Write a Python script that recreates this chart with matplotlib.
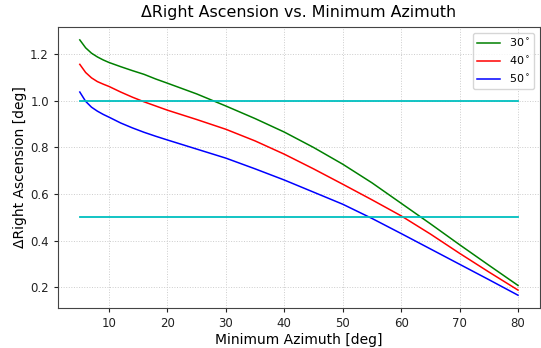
import matplotlib
matplotlib.use("Agg")
import matplotlib.pyplot as plt

# Minimum azimuth [deg]
azimuth = [5, 6, 7, 8, 9, 10, 12, 14, 16, 18, 20, 25, 30, 35, 40, 45, 50, 55, 60, 65, 70, 75, 80]

# Delta right ascension [deg] for each elevation
dra_30 = [1.262, 1.228, 1.205, 1.189, 1.176, 1.165, 1.147, 1.130, 1.114, 1.094, 1.076, 1.030,
          0.978, 0.924, 0.866, 0.800, 0.728, 0.648, 0.560, 0.472, 0.382, 0.294, 0.207]
dra_40 = [1.157, 1.122, 1.099, 1.083, 1.072, 1.062, 1.038, 1.016, 0.996, 0.978, 0.960, 0.920,
          0.878, 0.828, 0.771, 0.708, 0.642, 0.575, 0.506, 0.428, 0.345, 0.265, 0.187]
dra_50 = [1.038, 0.998, 0.973, 0.956, 0.942, 0.930, 0.905, 0.884, 0.865, 0.848, 0.832, 0.793,
          0.754, 0.708, 0.660, 0.608, 0.556, 0.495, 0.430, 0.364, 0.298, 0.232, 0.165]

series_labels = [r"30$^\circ$", r"40$^\circ$", r"50$^\circ$"]
threshold_levels = [1.0, 0.5]

fig = plt.figure(figsize=(5.41, 3.48), dpi=100)
ax = fig.add_axes([0.107, 0.115, 0.891, 0.807])

ax.plot(azimuth, dra_30, color="g", lw=1.1, label=series_labels[0])
ax.plot(azimuth, dra_40, color="r", lw=1.1, label=series_labels[1])
ax.plot(azimuth, dra_50, color="b", lw=1.1, label=series_labels[2])
for level in threshold_levels:
    ax.plot([azimuth[0], azimuth[-1]], [level, level], color="c", lw=1.3)

ax.set_xticks([10, 20, 30, 40, 50, 60, 70, 80])
ax.set_yticks([0.2, 0.4, 0.6, 0.8, 1.0, 1.2])
ax.tick_params(labelsize=8.5, colors="#222222", length=3)
for spine in ax.spines.values():
    spine.set_color("#444444")
ax.grid(True, linestyle=":", color="#cccccc", linewidth=0.7)
ax.set_xlabel("Minimum Azimuth [deg]", fontsize=10, labelpad=2)
ax.set_ylabel("ΔRight Ascension [deg]", fontsize=10, labelpad=2)
ax.set_title("ΔRight Ascension vs. Minimum Azimuth", fontsize=11.4, pad=7)
ax.legend(loc="upper right", fontsize=8)

fig.savefig("out.png", dpi=100)
